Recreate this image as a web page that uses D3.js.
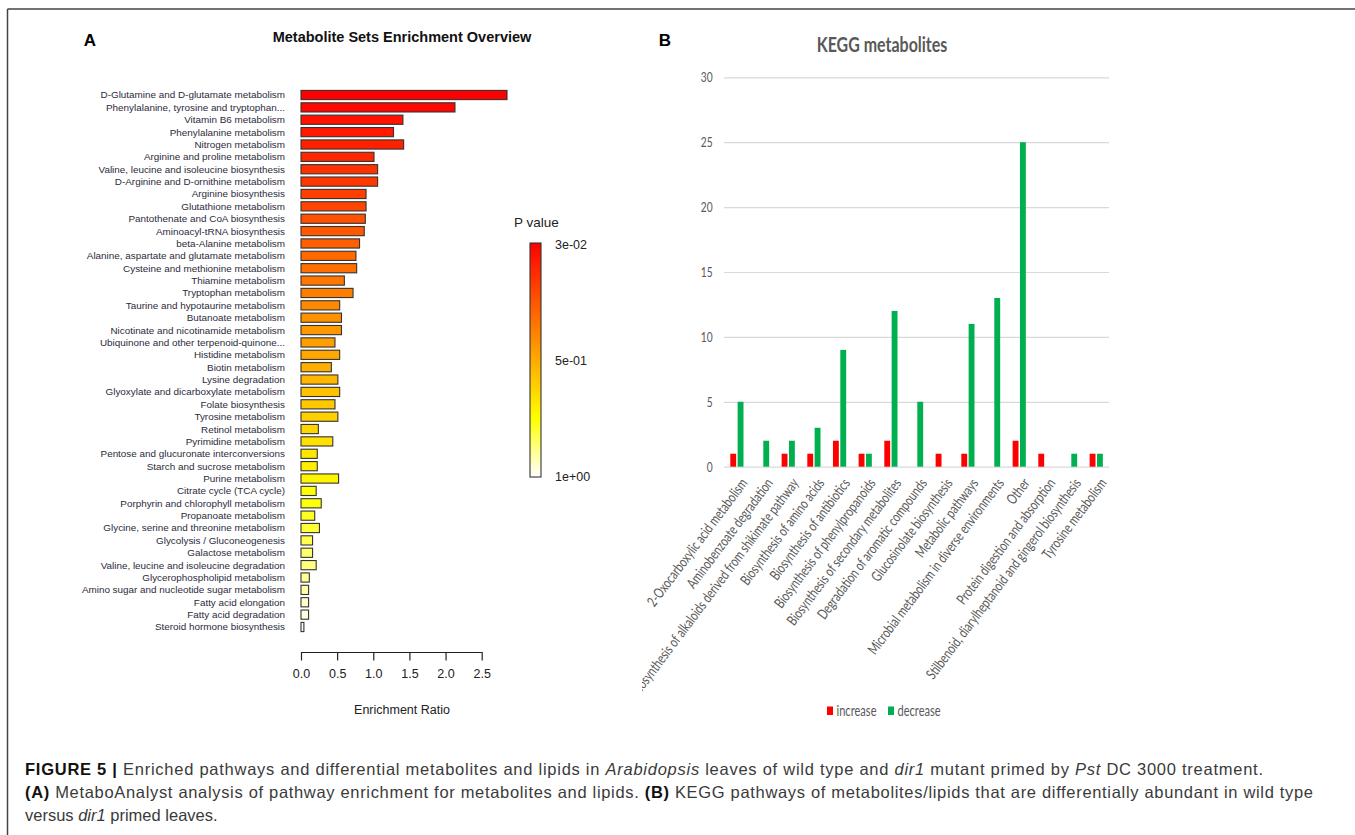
<!DOCTYPE html>
<html>
<head>
<meta charset="utf-8">
<script src="https://d3js.org/d3.v7.min.js"></script>
<style>
  body { margin: 0; background: #fff; }
  svg { display: block; font-family: "Liberation Sans", Arial, sans-serif; }
</style>
</head>
<body>
<script>
// ---- Panel A data: metabolite set enrichment ----
var pathways = [
  "D-Glutamine and D-glutamate metabolism",
  "Phenylalanine, tyrosine and tryptophan...",
  "Vitamin B6 metabolism",
  "Phenylalanine metabolism",
  "Nitrogen metabolism",
  "Arginine and proline metabolism",
  "Valine, leucine and isoleucine biosynthesis",
  "D-Arginine and D-ornithine metabolism",
  "Arginine biosynthesis",
  "Glutathione metabolism",
  "Pantothenate and CoA biosynthesis",
  "Aminoacyl-tRNA biosynthesis",
  "beta-Alanine metabolism",
  "Alanine, aspartate and glutamate metabolism",
  "Cysteine and methionine metabolism",
  "Thiamine metabolism",
  "Tryptophan metabolism",
  "Taurine and hypotaurine metabolism",
  "Butanoate metabolism",
  "Nicotinate and nicotinamide metabolism",
  "Ubiquinone and other terpenoid-quinone...",
  "Histidine metabolism",
  "Biotin metabolism",
  "Lysine degradation",
  "Glyoxylate and dicarboxylate metabolism",
  "Folate biosynthesis",
  "Tyrosine metabolism",
  "Retinol metabolism",
  "Pyrimidine metabolism",
  "Pentose and glucuronate interconversions",
  "Starch and sucrose metabolism",
  "Purine metabolism",
  "Citrate cycle (TCA cycle)",
  "Porphyrin and chlorophyll metabolism",
  "Propanoate metabolism",
  "Glycine, serine and threonine metabolism",
  "Glycolysis / Gluconeogenesis",
  "Galactose metabolism",
  "Valine, leucine and isoleucine degradation",
  "Glycerophospholipid metabolism",
  "Amino sugar and nucleotide sugar metabolism",
  "Fatty acid elongation",
  "Fatty acid degradation",
  "Steroid hormone biosynthesis"
];
var enrichment = [2.85, 2.13, 1.41, 1.28, 1.42, 1.01, 1.06, 1.06, 0.90, 0.90,
                  0.89, 0.875, 0.81, 0.76, 0.77, 0.60, 0.72, 0.535, 0.56, 0.56,
                  0.47, 0.535, 0.42, 0.51, 0.535, 0.47, 0.51, 0.24, 0.44, 0.225,
                  0.225, 0.52, 0.21, 0.28, 0.19, 0.255, 0.16, 0.16, 0.21, 0.115,
                  0.105, 0.105, 0.105, 0.04];
var pValues = [0.03, 0.05, 0.08, 0.10, 0.12, 0.14, 0.17, 0.19, 0.21, 0.23,
               0.26, 0.28, 0.30, 0.33, 0.35, 0.37, 0.39, 0.42, 0.44, 0.46,
               0.48, 0.51, 0.53, 0.55, 0.58, 0.60, 0.62, 0.64, 0.67, 0.69,
               0.71, 0.73, 0.76, 0.77, 0.79, 0.81, 0.83, 0.86, 0.88, 0.90,
               0.92, 0.95, 0.97, 0.99];
var ratioTicks = [0, 0.5, 1, 1.5, 2, 2.5];
var pLegendLabels = ["3e-02", "5e-01", "1e+00"];

// ---- Panel B data: KEGG metabolites ----
var keggCategories = [
  "2-Oxocarboxylic acid metabolism",
  "Aminobenzoate degradation",
  "Biosynthesis of alkaloids derived from shikimate pathway",
  "Biosynthesis of amino acids",
  "Biosynthesis of antibiotics",
  "Biosynthesis of phenylpropanoids",
  "Biosynthesis of secondary metabolites",
  "Degradation of aromatic compounds",
  "Glucosinolate biosynthesis",
  "Metabolic pathways",
  "Microbial metabolism in diverse environments",
  "Other",
  "Protein digestion and absorption",
  "Stilbenoid, diarylheptanoid and gingerol biosynthesis",
  "Tyrosine metabolism"
];
var increase = [1, 0, 1, 1, 2, 1, 2, 0, 1, 1, 0, 2, 1, 0, 1];
var decrease = [5, 2, 2, 3, 9, 1, 12, 5, 0, 11, 13, 25, 0, 1, 1];
var countTicks = [0, 5, 10, 15, 20, 25, 30];
var seriesNames = ["increase", "decrease"];
var seriesColors = ["#ff0000", "#00b050"];

var W = 1355, H = 835;
var svg = d3.select("body").append("svg")
  .attr("width", W).attr("height", H);
var defs = svg.append("defs");

// frame lines
svg.append("line").attr("x1", 7.5).attr("x2", W).attr("y1", 9).attr("y2", 9)
  .attr("stroke", "#444").attr("stroke-width", 1.5);
svg.append("line").attr("x1", 7.5).attr("x2", 7.5).attr("y1", 9).attr("y2", H)
  .attr("stroke", "#444").attr("stroke-width", 1.5);

// ================= Panel A =================
// heat colours: red -> yellow by hue, then yellow -> white
function heat(p) {
  var t = (p - 0.03) / 0.97;
  if (t <= 0.75) return d3.hsl(60 * t / 0.75, 1, 0.5).formatHex();
  return d3.interpolateRgb("#ffff00", "#ffffff")((t - 0.75) / 0.25);
}

var xA = d3.scaleLinear().domain([0, 2.5]).range([301, 481.7]);
var yA = d3.scalePoint().domain(pathways).range([95, 627]);

var gA = svg.append("g");

gA.append("text").attr("x", 90).attr("y", 46)
  .attr("text-anchor", "middle").attr("font-weight", "bold")
  .attr("font-size", 17).text("A");

gA.append("text").attr("x", 402).attr("y", 42)
  .attr("text-anchor", "middle").attr("font-weight", "bold")
  .attr("font-size", 14.5).attr("fill", "#111")
  .text("Metabolite Sets Enrichment Overview");

gA.selectAll("rect.bar").data(pathways).enter().append("rect")
  .attr("class", "bar")
  .attr("x", xA(0))
  .attr("y", function(d) { return yA(d) - 4.6; })
  .attr("width", function(d, i) { return xA(enrichment[i]) - xA(0); })
  .attr("height", 9.2)
  .attr("fill", function(d, i) { return heat(pValues[i]); })
  .attr("stroke", "#333").attr("stroke-width", 1.1);

gA.selectAll("text.lab").data(pathways).enter().append("text")
  .attr("class", "lab")
  .attr("x", 285)
  .attr("y", function(d) { return yA(d); })
  .attr("dy", "0.35em")
  .attr("text-anchor", "end")
  .attr("font-size", 9.9).attr("fill", "#2b2b3a")
  .text(function(d) { return d; });

var axA = gA.append("g").attr("transform", "translate(0,652)")
  .call(d3.axisBottom(xA).tickValues(ratioTicks).tickFormat(d3.format(".1f"))
    .tickSize(8.5).tickSizeOuter(0).tickPadding(9));
axA.selectAll("path, line").attr("stroke", "#222").attr("stroke-width", 1.2);
axA.selectAll("text").attr("font-size", 12.5).attr("fill", "#222")
  .attr("font-family", "Liberation Sans, Arial, sans-serif");

gA.append("text").attr("x", 402).attr("y", 714)
  .attr("text-anchor", "middle").attr("font-size", 12.5).attr("fill", "#222")
  .text("Enrichment Ratio");

// colour legend
var grad = defs.append("linearGradient")
  .attr("id", "pgrad").attr("x1", 0).attr("x2", 0).attr("y1", 0).attr("y2", 1);
d3.range(0, 1.0001, 0.05).forEach(function(f) {
  grad.append("stop").attr("offset", f).attr("stop-color", heat(0.03 + 0.97 * f));
});
gA.append("rect").attr("x", 530).attr("y", 243).attr("width", 11).attr("height", 234)
  .attr("fill", "url(#pgrad)").attr("stroke", "#333").attr("stroke-width", 1.1);
var yLeg = d3.scalePoint().domain(pLegendLabels).range([245, 477]);
gA.selectAll("text.pl").data(pLegendLabels).enter().append("text")
  .attr("class", "pl").attr("x", 555).attr("y", function(d) { return yLeg(d); })
  .attr("dy", "0.35em").attr("font-size", 12.5).attr("fill", "#222")
  .text(function(d) { return d; });
gA.append("text").attr("x", 514).attr("y", 222).attr("dy", "0.35em")
  .attr("font-size", 13.5).attr("fill", "#222").text("P value");

// ================= Panel B =================
var fontB = "Lato, 'Open Sans', sans-serif";
var grey = "#595959";
var xB = d3.scaleBand().domain(keggCategories).range([724, 1109]);
var xSub = d3.scaleBand().domain(seriesNames).range([6.3, 19.5]).paddingInner(0.2);
var yB = d3.scaleLinear().domain([0, 30]).range([466.7, 77.3]);

var gB = svg.append("g").attr("font-family", fontB);

gB.append("text").attr("x", 665).attr("y", 46)
  .attr("text-anchor", "middle").attr("font-weight", "bold")
  .attr("font-size", 17).attr("font-family", "Liberation Sans, Arial, sans-serif")
  .text("B");

gB.append("text").attr("transform", "translate(882,52) scale(0.78,1)")
  .attr("text-anchor", "middle").attr("font-weight", "bold")
  .attr("font-size", 20.5).attr("fill", grey)
  .text("KEGG metabolites");

var axB = gB.append("g").attr("transform", "translate(724,0)")
  .call(d3.axisLeft(yB).tickValues(countTicks).tickSize(-(1109 - 724)).tickPadding(15.5));
axB.select(".domain").remove();
axB.selectAll("line").attr("stroke", "#d9d9d9").attr("stroke-width", 1.2);
axB.selectAll("text").attr("font-family", fontB).attr("font-size", 14)
  .attr("fill", grey).attr("transform", "scale(0.73,1)");

var groups = gB.selectAll("g.cat").data(keggCategories).enter().append("g")
  .attr("class", "cat")
  .attr("transform", function(d) { return "translate(" + xB(d) + ",0)"; });
groups.selectAll("rect").data(function(d, i) {
    return [{s: "increase", v: increase[i], c: seriesColors[0]},
            {s: "decrease", v: decrease[i], c: seriesColors[1]}];
  }).enter().append("rect")
  .attr("x", function(d) { return xSub(d.s); })
  .attr("width", xSub.bandwidth())
  .attr("y", function(d) { return yB(d.v); })
  .attr("height", function(d) { return yB(0) - yB(d.v); })
  .attr("fill", function(d) { return d.c; });

// rotated category labels, clipped at the panel edge
defs.append("clipPath").attr("id", "clipB")
  .append("rect").attr("x", 642).attr("y", 0).attr("width", W - 642).attr("height", H);
gB.append("g").attr("clip-path", "url(#clipB)")
  .selectAll("text").data(keggCategories).enter().append("text")
  .attr("transform", function(d) {
    return "translate(" + (xB(d) + xB.bandwidth() / 2 + 3) + ",477) rotate(-53) scale(0.74,1)";
  })
  .attr("text-anchor", "end").attr("dy", "0.71em")
  .attr("font-size", 14.5).attr("fill", grey)
  .text(function(d) { return d; });

// legend
var legX = [827, 888];
seriesNames.forEach(function(s, i) {
  gB.append("rect").attr("x", legX[i]).attr("y", 706.5).attr("width", 6).attr("height", 8.5)
    .attr("fill", seriesColors[i]);
  gB.append("text").attr("transform", "translate(" + (legX[i] + 9.5) + ",711) scale(0.74,1)")
    .attr("dy", "0.35em").attr("font-size", 15).attr("fill", grey).text(s);
});

// ================= Caption =================
var cap = svg.append("g").attr("font-size", 16.5).attr("fill", "#3a3a3a")
  .attr("font-family", "Liberation Sans, Arial, sans-serif");
var lines = [
  [["FIGURE 5 |", "b"], [" Enriched pathways and differential metabolites and lipids in ", ""],
   ["Arabidopsis", "i"], [" leaves of wild type and ", ""], ["dir1", "i"],
   [" mutant primed by ", ""], ["Pst", "i"], [" DC 3000 treatment.", ""]],
  [["(A)", "b"], [" MetaboAnalyst analysis of pathway enrichment for metabolites and lipids. ", ""],
   ["(B)", "b"], [" KEGG pathways of metabolites/lipids that are differentially abundant in wild type", ""]],
  [["versus ", ""], ["dir1", "i"], [" primed leaves.", ""]]
];
var lineY = [775, 798, 821];
var lineLen = [1238, 1288, null];
lines.forEach(function(parts, li) {
  var t = cap.append("text").attr("x", 25).attr("y", lineY[li]);
  if (lineLen[li]) t.attr("textLength", lineLen[li]).attr("lengthAdjust", "spacing");
  parts.forEach(function(p) {
    var sp = t.append("tspan").text(p[0]);
    if (p[1] === "b") sp.attr("font-weight", "bold").attr("fill", "#111");
    if (p[1] === "i") sp.attr("font-style", "italic");
  });
});
</script>
</body>
</html>
